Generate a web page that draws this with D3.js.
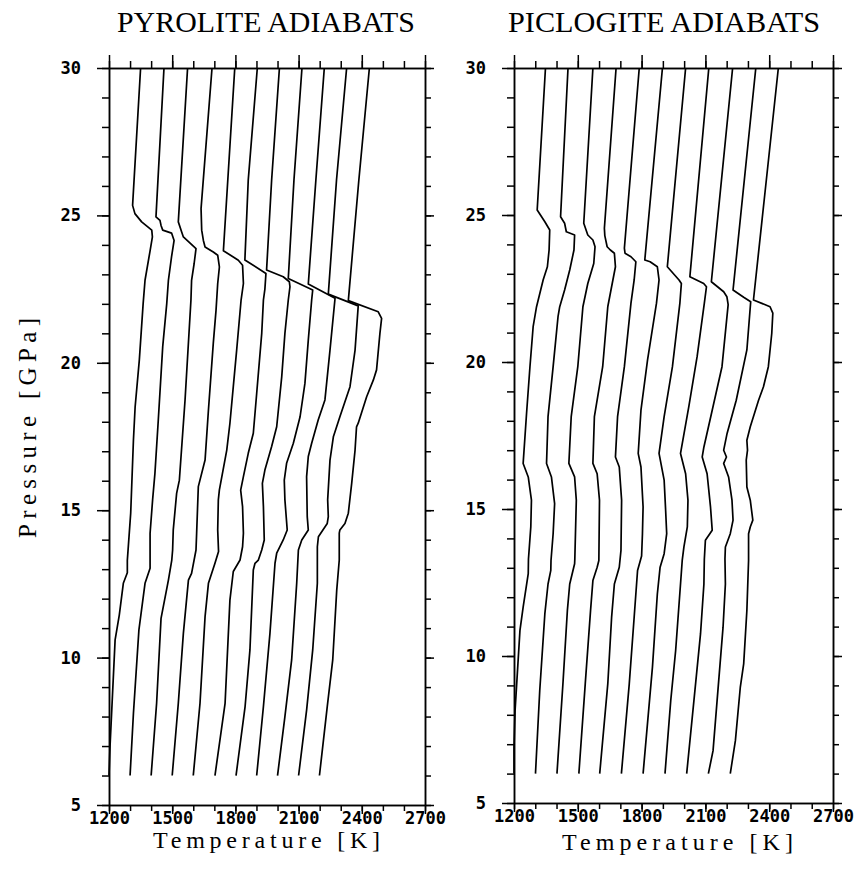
<!DOCTYPE html>
<html>
<head>
<meta charset="utf-8">
<script src="https://cdn.jsdelivr.net/npm/d3@7/dist/d3.min.js"></script>
<style>
body { margin: 0; background: #fff; }
svg { display: block; }
.tick text { font-family: "DejaVu Sans Mono", monospace; font-weight: bold; font-size: 17px; fill: #000; }
.axis path, .axis line { stroke: #000; stroke-width: 1.5px; }
.label { font-family: "Liberation Serif", serif; fill: #000; }
</style>
</head>
<body>
<div id="chart-area"></div>
<script>
// tick values
var tempLabels = [1200, 1500, 1800, 2100, 2400, 2700];
var tempMinor = [1200, 1300, 1400, 1500, 1600, 1700, 1800, 1900, 2000, 2100, 2200, 2300, 2400, 2500, 2600, 2700];
var pressLabels = [5, 10, 15, 20, 25, 30];
var pressMinor = [5, 6, 7, 8, 9, 10, 11, 12, 13, 14, 15, 16, 17, 18, 19, 20, 21, 22, 23, 24, 25, 26, 27, 28, 29, 30];

// adiabats, [temperature K, pressure GPa], top (30 GPa) to bottom
var pyrolite = [
  [[1350,30],[1312,25.34],[1323,25.06],[1355,24.78],[1403,24.5],[1406,24.27],[1395,23.8],[1371,22.8],[1362,22.0],[1344,20.1],[1324,18.5],[1316,17.38],[1303,14.9],[1287,13.3],[1287,12.88],[1268,12.52],[1249,11.45],[1229,10.6],[1205,7.0],[1200,6]],
  [[1461,30],[1423,24.95],[1442,24.83],[1447,24.66],[1455,24.5],[1497,24.4],[1509,24.15],[1497,23.6],[1482,22.8],[1474,22.0],[1455,20.55],[1434,18.06],[1418,16.25],[1407,15.35],[1395,14.22],[1395,13.03],[1371,12.52],[1342,10.94],[1316,8.11],[1300,6]],
  [[1573,30],[1529,24.78],[1545,24.44],[1553,24.27],[1585,24.06],[1613,23.87],[1604,23.36],[1592,22.8],[1589,22.13],[1561,18.74],[1534,16.02],[1521,15.57],[1505,14.33],[1502,13.65],[1498,13.31],[1482,12.63],[1447,11.33],[1426,8.45],[1400,6]],
  [[1689,30],[1637,25.23],[1640,24.5],[1648,24.15],[1656,23.93],[1695,23.76],[1716,23.65],[1724,23.25],[1716,22.69],[1708,21.78],[1695,20.66],[1672,18.4],[1656,16.7],[1624,15.8],[1616,14.22],[1613,13.65],[1592,12.86],[1577,12.63],[1553,10.82],[1529,8.45],[1500,6]],
  [[1797,30],[1743,23.8],[1790,23.59],[1814,23.48],[1834,23.31],[1838,22.69],[1827,22.13],[1806,20.43],[1790,19.19],[1774,17.95],[1759,17.04],[1724,15.69],[1719,15.35],[1716,14.33],[1720,13.6],[1703,13.2],[1672,12.52],[1656,11.39],[1632,8.45],[1600,6]],
  [[1904,30],[1861,26.2],[1845,23.49],[1945,23.03],[1940,22.5],[1933,22.13],[1925,21.0],[1901,18.96],[1885,17.61],[1861,16.93],[1838,16.14],[1825,15.68],[1834,15.12],[1838,14.22],[1834,13.76],[1822,13.31],[1790,12.92],[1774,11.95],[1751,8.45],[1703,6]],
  [[2009,30],[1972,26.2],[1948,23.15],[2027,22.92],[2056,22.75],[2059,22.58],[2051,22.13],[2035,21.0],[2020,19.53],[1996,17.83],[1972,17.16],[1940,16.36],[1928,15.91],[1933,15.12],[1937,13.99],[1925,13.65],[1909,13.31],[1893,13.2],[1885,12.97],[1869,10.26],[1846,8.34],[1803,6]],
  [[2116,30],[2078,26.2],[2051,22.86],[2167,22.47],[2162,22.13],[2146,20.77],[2130,19.3],[2107,18.17],[2075,17.27],[2043,16.59],[2032,16.02],[2035,15.35],[2046,14.33],[2027,13.99],[1996,13.54],[1988,13.2],[1964,10.82],[1933,8.34],[1901,6]],
  [[2222,30],[2182,26.2],[2146,22.67],[2273,22.19],[2249,20.43],[2225,18.74],[2193,18.06],[2162,17.27],[2146,16.82],[2138,16.14],[2141,14.78],[2146,14.33],[2115,13.99],[2099,13.65],[2091,12.52],[2067,9.92],[2035,8.0],[2000,6]],
  [[2328,30],[2280,26.2],[2241,22.33],[2383,21.93],[2368,20.43],[2344,19.19],[2296,18.17],[2265,17.49],[2249,16.7],[2238,15.35],[2241,14.78],[2236,14.55],[2194,14.1],[2189,13.76],[2189,12.52],[2167,10.26],[2138,8.22],[2100,6]],
  [[2436,30],[2386,26.2],[2336,22.11],[2478,21.73],[2494,21.51],[2486,21.0],[2470,19.76],[2455,19.42],[2423,18.85],[2383,17.95],[2375,17.83],[2368,17.04],[2352,15.91],[2336,14.9],[2320,14.55],[2296,14.33],[2293,14.22],[2293,13.31],[2281,12.29],[2262,9.92],[2236,8.34],[2199,6]]
];

var piclogite = [
  [[1348,30],[1309,25.17],[1345,24.77],[1368,24.49],[1365,23.81],[1357,23.24],[1337,22.79],[1306,21.88],[1290,21.2],[1275,19.84],[1259,18.25],[1243,16.55],[1267,16.09],[1282,15.3],[1279,14.39],[1268,13.3],[1267,12.8],[1243,11.66],[1228,10.87],[1205,8.14],[1200,6.9],[1200,6]],
  [[1454,30],[1419,24.94],[1438,24.72],[1446,24.43],[1485,24.32],[1482,23.81],[1462,23.13],[1438,22.45],[1415,21.88],[1407,21.54],[1384,19.84],[1360,18.14],[1353,16.55],[1376,16.09],[1391,15.18],[1384,14.16],[1374,13.25],[1373,12.91],[1360,12.45],[1345,11.43],[1321,8.82],[1301,6]],
  [[1571,30],[1528,24.72],[1547,24.32],[1571,24.15],[1581,23.92],[1575,23.35],[1547,22.67],[1524,21.88],[1500,19.84],[1469,18.14],[1458,16.55],[1485,16.09],[1493,15.3],[1486,13.3],[1485,13.14],[1462,12.45],[1451,11.55],[1430,9.05],[1402,6]],
  [[1680,30],[1625,24.55],[1627,24.3],[1638,23.92],[1653,23.81],[1672,23.7],[1677,23.24],[1656,22.45],[1641,21.88],[1617,19.84],[1578,18.14],[1571,16.55],[1591,16.2],[1602,15.3],[1599,13.25],[1591,13.02],[1571,12.57],[1560,11.55],[1535,9.05],[1505,6]],
  [[1789,30],[1719,23.87],[1722,23.7],[1750,23.58],[1773,23.41],[1765,22.79],[1750,22.0],[1719,19.84],[1687,18.14],[1677,16.77],[1695,16.43],[1706,15.3],[1703,13.59],[1695,13.02],[1672,12.45],[1659,11.32],[1641,9.05],[1603,6]],
  [[1898,30],[1815,23.47],[1840,23.41],[1874,23.24],[1882,22.79],[1870,22.0],[1828,20.07],[1797,18.36],[1784,16.89],[1797,16.43],[1807,15.07],[1804,14.16],[1800,13.4],[1781,12.91],[1765,11.32],[1742,9.05],[1705,6]],
  [[2007,30],[1921,23.24],[1976,22.79],[1987,22.67],[1980,22.0],[1945,19.84],[1906,18.14],[1882,16.89],[1906,15.98],[1913,14.96],[1918,14.16],[1906,13.48],[1887,13.02],[1874,12.11],[1851,9.62],[1807,6]],
  [[2116,30],[2027,22.9],[2092,22.67],[2105,22.56],[2095,22.0],[2061,20.18],[2022,18.48],[1983,16.89],[2007,16.2],[2018,15.3],[2015,14.39],[1999,13.71],[1991,13.25],[1983,12.45],[1960,10.18],[1937,8.48],[1910,6]],
  [[2228,30],[2128,22.73],[2186,22.39],[2201,22.22],[2207,21.95],[2178,19.84],[2132,18.36],[2093,17.11],[2085,16.77],[2108,16.2],[2124,15.07],[2132,14.28],[2100,13.94],[2095,13.3],[2093,12.45],[2077,10.75],[2046,8.48],[2012,6]],
  [[2337,30],[2230,22.45],[2280,22.2],[2313,22.05],[2295,20.41],[2245,18.7],[2202,17.57],[2186,17.0],[2199,16.77],[2186,16.55],[2209,16.09],[2225,15.3],[2230,14.62],[2217,14.16],[2194,13.71],[2192,13.3],[2194,12.45],[2183,10.98],[2155,8.48],[2136,6.78],[2114,6]],
  [[2443,30],[2326,22.11],[2404,21.88],[2417,21.66],[2412,20.97],[2396,19.84],[2373,19.16],[2350,18.7],[2311,17.8],[2295,17.34],[2298,17.0],[2292,16.66],[2295,15.75],[2311,15.3],[2323,14.62],[2311,14.39],[2303,14.16],[2303,13.25],[2295,11.55],[2280,9.73],[2264,8.93],[2241,7.12],[2217,6]]
];

var panels = [
  { title: "PYROLITE ADIABATS", data: pyrolite, left: 109, right: 425, top: 68, bottom: 805,
    titleX: 117, titleLen: 298, xLabX: 153, xLabLen: 227, xLabY: 848 },
  { title: "PICLOGITE ADIABATS", data: piclogite, left: 514, right: 833, top: 68, bottom: 803,
    titleX: 508, titleLen: 312, xLabX: 562, xLabLen: 231, xLabY: 850 }
];

var svg = d3.select("#chart-area")
  .append("svg")
    .attr("width", 860)
    .attr("height", 871);

panels.forEach(function(p) {
  var x = d3.scaleLinear().domain([1200, 2700]).range([p.left, p.right]);
  var y = d3.scaleLinear().domain([5, 30]).range([p.bottom, p.top]);
  var g = svg.append("g");

  // minor ticks all round
  g.append("g").attr("class", "axis")
    .attr("transform", "translate(0," + p.top + ")")
    .call(d3.axisTop(x).tickValues(tempMinor).tickSize(7).tickSizeOuter(0).tickFormat(""));
  g.append("g").attr("class", "axis")
    .attr("transform", "translate(0," + p.bottom + ")")
    .call(d3.axisBottom(x).tickValues(tempMinor).tickSize(6).tickSizeOuter(0).tickFormat(""));
  g.append("g").attr("class", "axis")
    .attr("transform", "translate(" + p.left + ",0)")
    .call(d3.axisLeft(y).tickValues(pressMinor).tickSize(7).tickSizeOuter(0).tickFormat(""));
  g.append("g").attr("class", "axis")
    .attr("transform", "translate(" + p.right + ",0)")
    .call(d3.axisRight(y).tickValues(pressMinor).tickSize(6).tickSizeOuter(0).tickFormat(""));

  // major ticks
  g.append("g").attr("class", "axis")
    .attr("transform", "translate(0," + p.top + ")")
    .call(d3.axisTop(x).tickValues(tempLabels).tickSize(13).tickSizeOuter(0).tickFormat(""));
  g.append("g").attr("class", "axis")
    .attr("transform", "translate(0," + p.bottom + ")")
    .call(d3.axisBottom(x).tickValues(tempLabels).tickSize(9).tickSizeOuter(0).tickFormat(""));
  g.append("g").attr("class", "axis")
    .attr("transform", "translate(" + p.left + ",0)")
    .call(d3.axisLeft(y).tickValues(pressLabels).tickSize(12).tickSizeOuter(0).tickFormat(""));
  g.append("g").attr("class", "axis")
    .attr("transform", "translate(" + p.right + ",0)")
    .call(d3.axisRight(y).tickValues(pressLabels).tickSize(9).tickSizeOuter(0).tickFormat(""));

  // tick labels
  var xl = g.append("g")
    .attr("transform", "translate(0," + p.bottom + ")")
    .call(d3.axisBottom(x).tickValues(tempLabels).tickSize(0).tickPadding(7).tickFormat(d3.format("d")));
  xl.select(".domain").remove();
  var yl = g.append("g")
    .attr("transform", "translate(" + p.left + ",0)")
    .call(d3.axisLeft(y).tickValues(pressLabels).tickSize(0).tickPadding(28).tickFormat(d3.format("d")));
  yl.select(".domain").remove();

  // adiabats
  var line = d3.line()
    .x(function(d) { return x(d[0]); })
    .y(function(d) { return y(d[1]); });
  g.selectAll("path.adiabat")
    .data(p.data)
    .enter()
    .append("path")
      .attr("class", "adiabat")
      .attr("d", line)
      .attr("fill", "none")
      .attr("stroke", "#000")
      .attr("stroke-width", 1.7)
      .attr("stroke-linejoin", "round");

  // title
  g.append("text")
    .attr("class", "label")
    .attr("x", p.titleX)
    .attr("y", 32)
    .attr("font-size", "29px")
    .attr("textLength", p.titleLen)
    .attr("lengthAdjust", "spacingAndGlyphs")
    .text(p.title);

  // x label
  g.append("text")
    .attr("class", "label")
    .attr("x", p.xLabX)
    .attr("y", p.xLabY)
    .attr("font-size", "24px")
    .attr("textLength", p.xLabLen)
    .attr("lengthAdjust", "spacing")
    .text("Temperature [K]");
});

// y label
svg.append("text")
  .attr("class", "label")
  .attr("transform", "translate(36,538) rotate(-90)")
  .attr("font-size", "25px")
  .attr("textLength", 220)
  .attr("lengthAdjust", "spacing")
  .text("Pressure [GPa]");
</script>
</body>
</html>
